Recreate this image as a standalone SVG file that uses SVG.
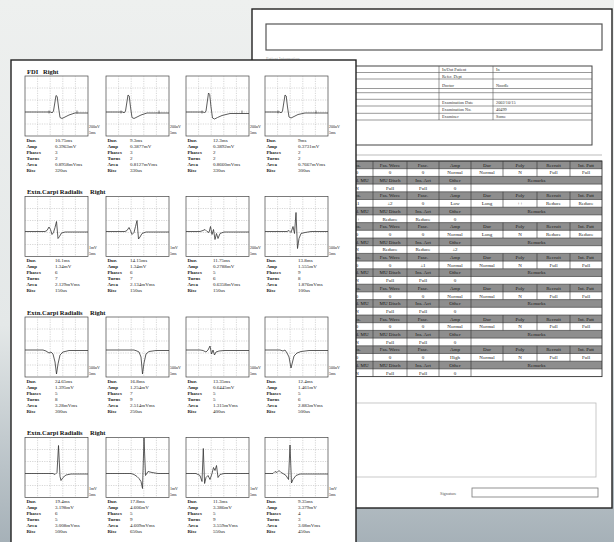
<svg xmlns="http://www.w3.org/2000/svg" xmlns:xlink="http://www.w3.org/1999/xlink" width="614" height="542" viewBox="0 0 614 542">
<style>
.pg{fill:#fff;stroke:#222;stroke-width:1.4}
.bx{fill:#fff;stroke:#444;stroke-width:0.7}
.gd{fill:none;stroke:#999;stroke-width:0.4;stroke-dasharray:1.2 1.2}
.wv{fill:none;stroke:#333;stroke-width:0.8;stroke-linejoin:round}
.tk{fill:none;stroke:#333;stroke-width:0.6}
.tt{font-family:"Liberation Serif",serif;font-weight:bold;font-size:6.5px;fill:#111}
.sl{font-family:"Liberation Serif",serif;font-weight:bold;font-size:5px;fill:#222}
.sv{font-family:"Liberation Serif",serif;font-size:5px;fill:#222}
.sc{font-family:"Liberation Serif",serif;font-size:4px;fill:#222}
.it{font-family:"Liberation Serif",serif;font-size:4.3px;fill:#333}
.ft{font-family:"Liberation Serif",serif;font-size:5px;fill:#1a1a1a;text-anchor:middle}
.hd{fill:#8e8e8e}
.tl{stroke:#333;stroke-width:0.6;fill:none}
.il{stroke:#555;stroke-width:0.6;fill:none}
</style>
<defs>
<linearGradient id="bg" x1="0" y1="0" x2="0" y2="1">
<stop offset="0" stop-color="#eef0ef"/>
<stop offset="0.6" stop-color="#e4e8e8"/>
<stop offset="0.86" stop-color="#bac3c8"/>
<stop offset="1" stop-color="#a6b1b8"/>
</linearGradient>
<g id="grid">
<rect class="bx" x="0" y="0" width="63" height="60"/>
<path class="gd" d="M12.6 0V60M25.2 0V60M37.8 0V60M50.4 0V60M0 12H63M0 24H63M0 36H63M0 48H63"/>
</g>
<g id="lbl" class="sl">
<text x="1.5" y="65.8">Dur.</text>
<text x="1.5" y="71.8">Amp</text>
<text x="1.5" y="77.8">Phases</text>
<text x="1.5" y="83.8">Turns</text>
<text x="1.5" y="89.8">Area</text>
<text x="1.5" y="95.8">Rise</text>
</g>
<g id="fh1">
<rect class="hd" x="340" y="0" width="262" height="7.7"/>
<text class="ft" y="5.6"><tspan x="357">Ins.</tspan><tspan x="390">Fas. Wave</tspan><tspan x="423">Fasc.</tspan><tspan x="455">Amp</tspan><tspan x="487">Dur</tspan><tspan x="520">Poly</tspan><tspan x="553.5">Recruit</tspan><tspan x="586">Int. Patt</tspan></text>
</g>
<g id="fh2">
<rect class="hd" x="340" y="0" width="262" height="7.7"/>
<text class="ft" y="5.6"><tspan x="360">Val. MU</tspan><tspan x="390">MU Disch</tspan><tspan x="423">Ins. Act</tspan><tspan x="455">Other</tspan><tspan x="536.5">Remarks</tspan></text>
</g>
<g id="fg">
<path class="tl" d="M340 0H602M340 7.7H602M340 15.4H602M340 23.1H602M373 0V15.4M407 0V15.4M439 0V15.4M471 0V15.4M503 0V15.4M537 0V15.4M570 0V15.4M373 15.4V30.8M407 15.4V30.8M439 15.4V30.8M471 15.4V30.8"/>
</g>
</defs>

<rect x="0" y="0" width="614" height="542" fill="url(#bg)"/>

<g id="back-page">
<rect class="pg" x="252" y="9" width="360" height="499"/>
<rect x="266" y="24" width="336" height="26" fill="none" stroke="#555" stroke-width="1.2"/>
<text x="266" y="59.5" font-family="Liberation Serif, serif" font-size="4.3" fill="#aaa">Patient Information</text>
<g id="info-table">
<rect x="266" y="66" width="326" height="79" fill="none" stroke="#444" stroke-width="1"/>
<path class="il" d="M266 72.5H592M266 79H592M266 88.5H592M266 92.7H592M266 99.3H592M266 106H592M266 113.3H592M266 120H592M439 66V120M493 66V120"/>
<text class="it" x="442" y="71">In/Out Patient</text>
<text class="it" x="496" y="71">In</text>
<text class="it" x="442" y="77.5">Refer. Dept</text>
<text class="it" x="442" y="86.5">Doctor</text>
<text class="it" x="496" y="86.5">Noodle</text>
<text class="it" x="442" y="104">Examination Date</text>
<text class="it" x="496" y="104">2002/10/15</text>
<text class="it" x="442" y="110.5">Examination No.</text>
<text class="it" x="496" y="110.5">40499</text>
<text class="it" x="442" y="118">Examiner</text>
<text class="it" x="496" y="118">Some</text>
</g>
<path d="M266 155H602" stroke="#aaa" stroke-width="0.8"/>
<g id="findings-table">
<use xlink:href="#fh1" y="161"/><use xlink:href="#fh2" y="176.4"/>
<use xlink:href="#fh1" y="191.8"/><use xlink:href="#fh2" y="207.2"/>
<use xlink:href="#fh1" y="222.6"/><use xlink:href="#fh2" y="238"/>
<use xlink:href="#fh1" y="253.4"/><use xlink:href="#fh2" y="268.8"/>
<use xlink:href="#fh1" y="284.2"/><use xlink:href="#fh2" y="299.6"/>
<use xlink:href="#fh1" y="315"/><use xlink:href="#fh2" y="330.4"/>
<use xlink:href="#fh1" y="345.8"/><use xlink:href="#fh2" y="361.2"/>
<text class="ft" y="174.3"><tspan x="357">0</tspan><tspan x="390">0</tspan><tspan x="423">0</tspan><tspan x="455">Normal</tspan><tspan x="487">Normal</tspan><tspan x="520">N</tspan><tspan x="553.5">Full</tspan><tspan x="586">Full</tspan></text>
<text class="ft" y="189.7"><tspan x="357">N</tspan><tspan x="390">Full</tspan><tspan x="423">Full</tspan><tspan x="455">0</tspan></text>
<text class="ft" y="205.1"><tspan x="357">±1</tspan><tspan x="390">±2</tspan><tspan x="423">0</tspan><tspan x="455">Low</tspan><tspan x="487">Long</tspan><tspan x="520">++</tspan><tspan x="553.5">Reduce</tspan><tspan x="586">Reduce</tspan></text>
<text class="ft" y="220.5"><tspan x="357">++</tspan><tspan x="390">Reduce</tspan><tspan x="423">Reduce</tspan><tspan x="455">0</tspan></text>
<text class="ft" y="235.9"><tspan x="357">0</tspan><tspan x="390">0</tspan><tspan x="423">0</tspan><tspan x="455">Normal</tspan><tspan x="487">Long</tspan><tspan x="520">N</tspan><tspan x="553.5">Reduce</tspan><tspan x="586">Reduce</tspan></text>
<text class="ft" y="251.3"><tspan x="357">N</tspan><tspan x="390">Reduce</tspan><tspan x="423">Reduce</tspan><tspan x="455">±2</tspan></text>
<text class="ft" y="266.7"><tspan x="357">0</tspan><tspan x="390">0</tspan><tspan x="423">±1</tspan><tspan x="455">Normal</tspan><tspan x="487">Normal</tspan><tspan x="520">N</tspan><tspan x="553.5">Full</tspan><tspan x="586">Full</tspan></text>
<text class="ft" y="282.1"><tspan x="357">N</tspan><tspan x="390">Full</tspan><tspan x="423">Full</tspan><tspan x="455">0</tspan></text>
<text class="ft" y="297.5"><tspan x="357">0</tspan><tspan x="390">0</tspan><tspan x="423">0</tspan><tspan x="455">Normal</tspan><tspan x="487">Normal</tspan><tspan x="520">N</tspan><tspan x="553.5">Full</tspan><tspan x="586">Full</tspan></text>
<text class="ft" y="312.9"><tspan x="357">N</tspan><tspan x="390">Full</tspan><tspan x="423">Full</tspan><tspan x="455">0</tspan></text>
<text class="ft" y="328.3"><tspan x="357">0</tspan><tspan x="390">0</tspan><tspan x="423">0</tspan><tspan x="455">Normal</tspan><tspan x="487">Normal</tspan><tspan x="520">N</tspan><tspan x="553.5">Full</tspan><tspan x="586">Full</tspan></text>
<text class="ft" y="343.7"><tspan x="357">N</tspan><tspan x="390">Full</tspan><tspan x="423">Full</tspan><tspan x="455">0</tspan></text>
<text class="ft" y="359.1"><tspan x="357">0</tspan><tspan x="390">0</tspan><tspan x="423">0</tspan><tspan x="455">High</tspan><tspan x="487">Normal</tspan><tspan x="520">N</tspan><tspan x="553.5">Full</tspan><tspan x="586">Full</tspan></text>
<text class="ft" y="374.5"><tspan x="357">N</tspan><tspan x="390">Full</tspan><tspan x="423">Full</tspan><tspan x="455">0</tspan></text>
<use xlink:href="#fg" y="161"/><use xlink:href="#fg" y="191.8"/><use xlink:href="#fg" y="222.6"/><use xlink:href="#fg" y="253.4"/><use xlink:href="#fg" y="284.2"/><use xlink:href="#fg" y="315"/><use xlink:href="#fg" y="345.8"/>
<rect x="340" y="161" width="262" height="215.6" fill="none" stroke="#333" stroke-width="0.9"/>
</g>
<rect x="266" y="403" width="330" height="74" fill="none" stroke="#bbb" stroke-width="0.8"/>
<text x="440" y="495" font-family="Liberation Serif, serif" font-size="4.3" fill="#555">Signature</text>
<rect x="472" y="488" width="126" height="9" fill="none" stroke="#777" stroke-width="0.8"/>
</g>

<g id="front-page">
<rect class="pg" x="11" y="60" width="345" height="495"/>

<text class="tt" x="27" y="73.5">FDI</text><text class="tt" x="43" y="73.5">Right</text>
<text class="tt" x="27" y="194">Extn.Carpi Radialis</text><text class="tt" x="90" y="194">Right</text>
<text class="tt" x="27" y="314.5">Extn.Carpi Radialis</text><text class="tt" x="90" y="314.5">Right</text>
<text class="tt" x="27" y="435">Extn.Carpi Radialis</text><text class="tt" x="90" y="435">Right</text>

<g id="p11" transform="translate(25,76)"><use xlink:href="#grid"/>
<path class="wv" d="M0 36H26L27 37L28.5 35L31 19.5L32.2 20.5L33.5 31L35 41.5L37 42.5L40 41L44 39L50 37H63"/><path class="tk" d="M24 34.5V37.5M52 34.5V37.5"/>
<text class="sc" x="64" y="52">200uV</text><text class="sc" x="64" y="58">5ms</text><use xlink:href="#lbl"/>
<text class="sv"><tspan x="30" y="65.8">10.75ms</tspan><tspan x="30" y="71.8">0.3963mV</tspan><tspan x="30" y="77.8">3</tspan><tspan x="30" y="83.8">2</tspan><tspan x="30" y="89.8">0.8958mVms</tspan><tspan x="30" y="95.8">320us</tspan></text></g>
<g id="p12" transform="translate(106,76)"><use xlink:href="#grid"/>
<path class="wv" d="M0 36H17L18 37L19.5 35L22 19L23.2 20L24.5 31L26 41.5L28 42.5L31 41L35 39L41 37H63"/><path class="tk" d="M15 34.5V37.5M53 34.5V37.5"/>
<text class="sc" x="64" y="52">200uV</text><text class="sc" x="64" y="58">5ms</text><use xlink:href="#lbl"/>
<text class="sv"><tspan x="24" y="65.8">9.3ms</tspan><tspan x="24" y="71.8">0.3877mV</tspan><tspan x="24" y="77.8">3</tspan><tspan x="24" y="83.8">2</tspan><tspan x="24" y="89.8">0.8127mVms</tspan><tspan x="24" y="95.8">330us</tspan></text></g>
<g id="p13" transform="translate(186,76)"><use xlink:href="#grid"/>
<path class="wv" d="M0 36H17.5L18.5 37L20 35L22.5 17L23.7 18.5L25 31L26.5 42L28.5 43L31.5 41.5L36 39.5L44 37.5H63"/><path class="tk" d="M16 34.5V37.5M56 34.5V37.5"/>
<text class="sc" x="64" y="52">200uV</text><text class="sc" x="64" y="58">5ms</text><use xlink:href="#lbl"/>
<text class="sv"><tspan x="27" y="65.8">12.3ms</tspan><tspan x="27" y="71.8">0.3892mV</tspan><tspan x="27" y="77.8">2</tspan><tspan x="27" y="83.8">2</tspan><tspan x="27" y="89.8">0.8660mVms</tspan><tspan x="27" y="95.8">330us</tspan></text></g>
<g id="p14" transform="translate(265,76)"><use xlink:href="#grid"/>
<path class="wv" d="M0 36H15L16 37L17.5 35L20 19L21.2 20L22.5 31L24 41L26 42L29 40.5L33 38.5L40 37H63"/><path class="tk" d="M13 34.5V37.5M51 34.5V37.5"/>
<text class="sc" x="64" y="52">200uV</text><text class="sc" x="64" y="58">5ms</text><use xlink:href="#lbl"/>
<text class="sv"><tspan x="33" y="65.8">9ms</tspan><tspan x="33" y="71.8">0.3731mV</tspan><tspan x="33" y="77.8">2</tspan><tspan x="33" y="83.8">2</tspan><tspan x="33" y="89.8">0.7667mVms</tspan><tspan x="33" y="95.8">300us</tspan></text></g>

<g id="p21" transform="translate(25,196.5)"><use xlink:href="#grid"/>
<path class="wv" d="M0 35H20L22 34L24 30.5L25.5 33L27 38L28.5 36L30 31L31.5 25L33 42L34.5 40L36.5 36.5L40 35.5H63"/>
<text class="sc" x="64" y="52">1mV</text><text class="sc" x="64" y="58">5ms</text><use xlink:href="#lbl"/>
<text class="sv"><tspan x="30" y="65.8">16.1ms</tspan><tspan x="30" y="71.8">1.34mV</tspan><tspan x="30" y="77.8">6</tspan><tspan x="30" y="83.8">7</tspan><tspan x="30" y="89.8">2.129mVms</tspan><tspan x="30" y="95.8">150us</tspan></text></g>
<g id="p22" transform="translate(106,196.5)"><use xlink:href="#grid"/>
<path class="wv" d="M0 35H19L21 34L23 31L24.5 34L26 38L28 36L29.5 30L31 24L32.5 42.5L34 40.5L36 37L40 35.5H63"/>
<text class="sc" x="64" y="52">1mV</text><text class="sc" x="64" y="58">5ms</text><use xlink:href="#lbl"/>
<text class="sv"><tspan x="24" y="65.8">14.15ms</tspan><tspan x="24" y="71.8">1.34mV</tspan><tspan x="24" y="77.8">6</tspan><tspan x="24" y="83.8">7</tspan><tspan x="24" y="89.8">2.134mVms</tspan><tspan x="24" y="95.8">150us</tspan></text></g>
<g id="p23" transform="translate(186,196.5)"><use xlink:href="#grid"/>
<path class="wv" d="M0 35H14L17 34L19 33L21 35L23 36L24.5 30L26 38L27.5 33L29 43L30.5 37L32 42L34 37L38 35.5H63"/>
<text class="sc" x="64" y="52">200uV</text><text class="sc" x="64" y="58">5ms</text><use xlink:href="#lbl"/>
<text class="sv"><tspan x="27" y="65.8">11.75ms</tspan><tspan x="27" y="71.8">0.2788mV</tspan><tspan x="27" y="77.8">5</tspan><tspan x="27" y="83.8">6</tspan><tspan x="27" y="89.8">0.6358mVms</tspan><tspan x="27" y="95.8">150us</tspan></text></g>
<g id="p24" transform="translate(265,196.5)"><use xlink:href="#grid"/>
<path class="wv" d="M0 35H22L24 34L26 36L28 30L29.5 37L31 16L32.5 52L34 42L36 37L40 36L46 35H63"/>
<text class="sc" x="64" y="52">500uV</text><text class="sc" x="64" y="58">5ms</text><use xlink:href="#lbl"/>
<text class="sv"><tspan x="33" y="65.8">13.8ms</tspan><tspan x="33" y="71.8">1.555mV</tspan><tspan x="33" y="77.8">9</tspan><tspan x="33" y="83.8">8</tspan><tspan x="33" y="89.8">1.876mVms</tspan><tspan x="33" y="95.8">100us</tspan></text></g>

<g id="p31" transform="translate(25,317)"><use xlink:href="#grid"/>
<path class="wv" d="M0 33H18L21 34L24 36L26 35L28 37L30 45L31.5 57L33 47L35 38L38 35L44 33.5H63"/>
<text class="sc" x="64" y="52">500uV</text><text class="sc" x="64" y="58">5ms</text><use xlink:href="#lbl"/>
<text class="sv"><tspan x="30" y="65.8">24.65ms</tspan><tspan x="30" y="71.8">1.395mV</tspan><tspan x="30" y="77.8">5</tspan><tspan x="30" y="83.8">8</tspan><tspan x="30" y="89.8">3.28mVms</tspan><tspan x="30" y="95.8">300us</tspan></text></g>
<g id="p32" transform="translate(106,317)"><use xlink:href="#grid"/>
<path class="wv" d="M0 33H28L31 34L33 35L35 40L36.5 57L38 46L40 37L43 34.5L50 33.5H63"/>
<text class="sc" x="64" y="52">500uV</text><text class="sc" x="64" y="58">5ms</text><use xlink:href="#lbl"/>
<text class="sv"><tspan x="24" y="65.8">16.8ms</tspan><tspan x="24" y="71.8">1.254mV</tspan><tspan x="24" y="77.8">7</tspan><tspan x="24" y="83.8">9</tspan><tspan x="24" y="89.8">2.514mVms</tspan><tspan x="24" y="95.8">250us</tspan></text></g>
<g id="p33" transform="translate(186,317)"><use xlink:href="#grid"/>
<path class="wv" d="M0 33H14L17 33.5L20 35L22 33L24 29L25.5 37L27 33L28.5 38L30 35L33 34L38 33.5H63"/>
<text class="sc" x="64" y="52">500uV</text><text class="sc" x="64" y="58">5ms</text><use xlink:href="#lbl"/>
<text class="sv"><tspan x="27" y="65.8">13.35ms</tspan><tspan x="27" y="71.8">0.6445mV</tspan><tspan x="27" y="77.8">5</tspan><tspan x="27" y="83.8">5</tspan><tspan x="27" y="89.8">1.315mVms</tspan><tspan x="27" y="95.8">400us</tspan></text></g>
<g id="p34" transform="translate(265,317)"><use xlink:href="#grid"/>
<path class="wv" d="M0 33H15L18 34L20 33L22 36L24 40L26 51L27.5 45L29 39L32 36L36 34.5L44 33.5H63"/>
<text class="sc" x="64" y="52">500uV</text><text class="sc" x="64" y="58">5ms</text><use xlink:href="#lbl"/>
<text class="sv"><tspan x="33" y="65.8">12.4ms</tspan><tspan x="33" y="71.8">1.461mV</tspan><tspan x="33" y="77.8">5</tspan><tspan x="33" y="83.8">6</tspan><tspan x="33" y="89.8">2.883mVms</tspan><tspan x="33" y="95.8">500us</tspan></text></g>

<g id="p41" transform="translate(25,437.5)"><use xlink:href="#grid"/>
<path class="wv" d="M0 36H28L30 37L32 35L33.5 8L35 39L36 43L38 40L41 37.5L46 36.5H63"/>
<text class="sc" x="64" y="52">1mV</text><text class="sc" x="64" y="58">5ms</text><use xlink:href="#lbl"/>
<text class="sv"><tspan x="30" y="65.8">19.4ms</tspan><tspan x="30" y="71.8">3.198mV</tspan><tspan x="30" y="77.8">6</tspan><tspan x="30" y="83.8">5</tspan><tspan x="30" y="89.8">3.008mVms</tspan><tspan x="30" y="95.8">500us</tspan></text></g>
<g id="p42" transform="translate(106,437.5)"><use xlink:href="#grid"/>
<path class="wv" d="M0 36H25L28 37L31 39L33 41L35 44L36.5 51L38 0.5L39.5 38L42 34L46 35L52 36H63"/>
<text class="sc" x="64" y="52">1mV</text><text class="sc" x="64" y="58">5ms</text><use xlink:href="#lbl"/>
<text class="sv"><tspan x="24" y="65.8">17.8ms</tspan><tspan x="24" y="71.8">4.606mV</tspan><tspan x="24" y="77.8">5</tspan><tspan x="24" y="83.8">9</tspan><tspan x="24" y="89.8">4.609mVms</tspan><tspan x="24" y="95.8">650us</tspan></text></g>
<g id="p43" transform="translate(186,437.5)"><use xlink:href="#grid"/>
<path class="wv" d="M0 36H10L12 37L14 38L16 44L17.3 11L18.6 46L20 40L22 38L24 42L26 36L27.5 30L29 33L30.5 28L32 40L34 37L38 36H63"/>
<text class="sc" x="64" y="52">1mV</text><text class="sc" x="64" y="58">5ms</text><use xlink:href="#lbl"/>
<text class="sv"><tspan x="27" y="65.8">11.3ms</tspan><tspan x="27" y="71.8">3.386mV</tspan><tspan x="27" y="77.8">5</tspan><tspan x="27" y="83.8">9</tspan><tspan x="27" y="89.8">3.559mVms</tspan><tspan x="27" y="95.8">550us</tspan></text></g>
<g id="p44" transform="translate(265,437.5)"><use xlink:href="#grid"/>
<path class="wv" d="M0 36H8L10 34L12 35L14 33L16 35L18 36L21 38L23.5 42L25 7.5L26.5 45.5L28 42L31 38L35 36.5H63"/>
<text class="sc" x="64" y="52">1mV</text><text class="sc" x="64" y="58">5ms</text><use xlink:href="#lbl"/>
<text class="sv"><tspan x="33" y="65.8">9.35ms</tspan><tspan x="33" y="71.8">3.379mV</tspan><tspan x="33" y="77.8">4</tspan><tspan x="33" y="83.8">3</tspan><tspan x="33" y="89.8">3.08mVms</tspan><tspan x="33" y="95.8">450us</tspan></text></g>
</g>
</svg>
